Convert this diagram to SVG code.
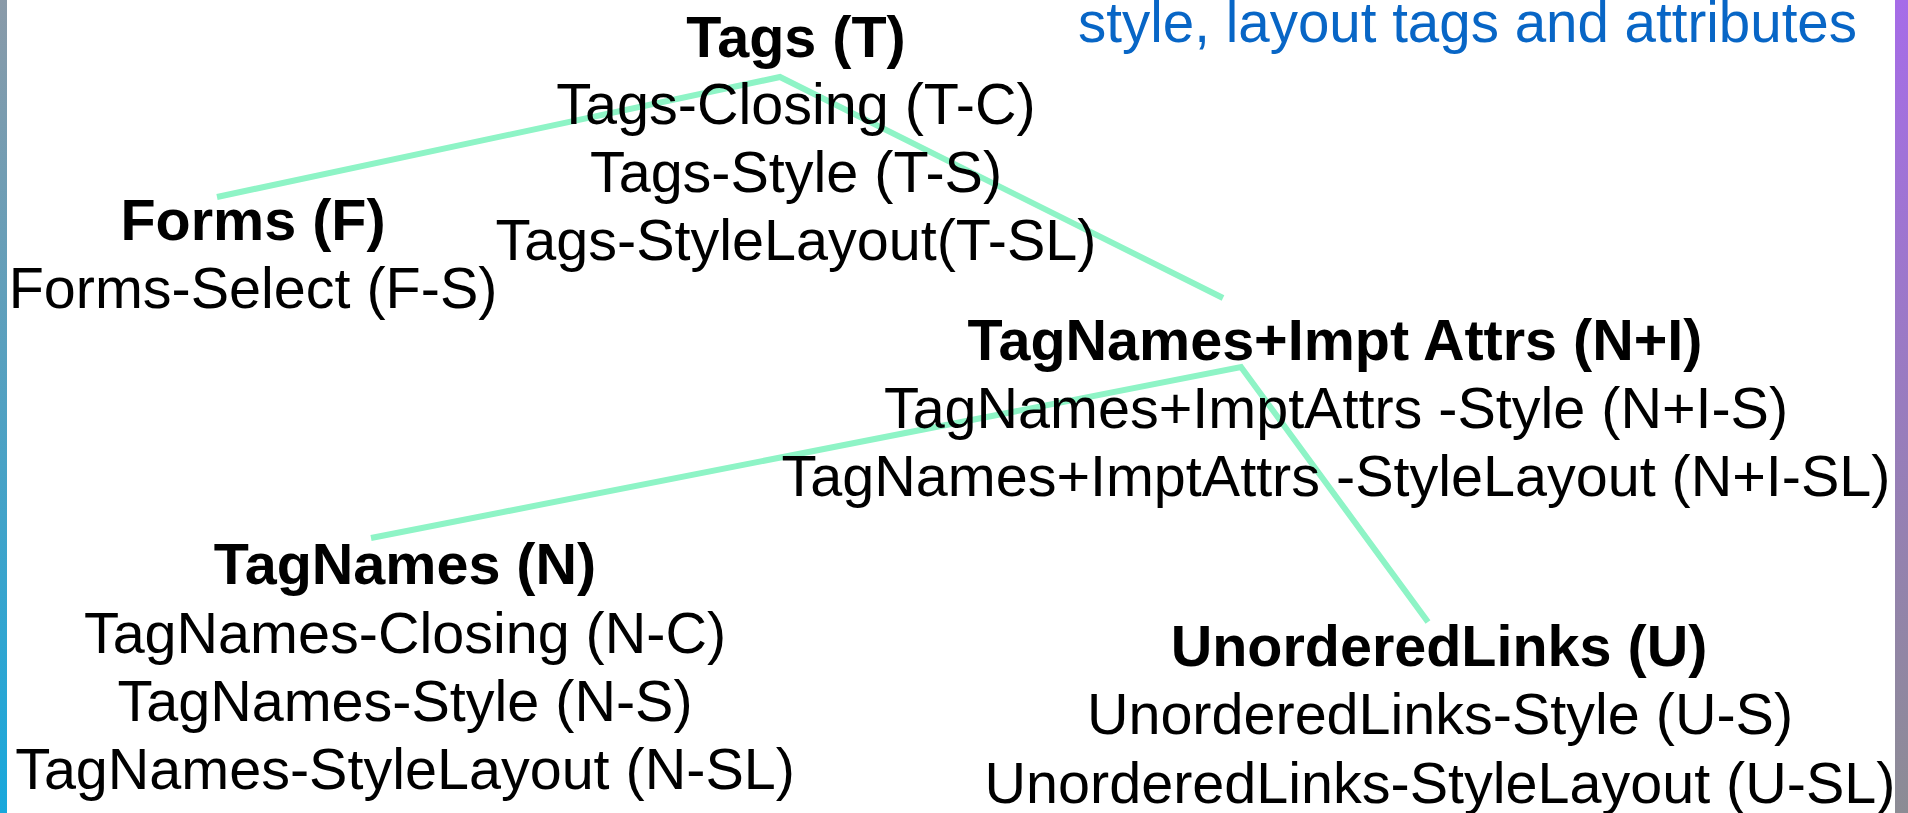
<svg xmlns="http://www.w3.org/2000/svg" width="1908" height="813" viewBox="0 0 1908 813">
  <defs>
    <linearGradient id="edgeLeft" x1="0" y1="0" x2="0" y2="1">
      <stop offset="0" stop-color="#8a9aa8"/>
      <stop offset="1" stop-color="#18a8dc"/>
    </linearGradient>
    <linearGradient id="edgeRight" x1="0" y1="0" x2="0" y2="1">
      <stop offset="0" stop-color="#a66ce8"/>
      <stop offset="1" stop-color="#8c8c94"/>
    </linearGradient>
    <style>
      text { font-family: "Liberation Sans", Arial, sans-serif; font-size: 57.5px; fill: #000; text-anchor: middle; }
      .title { font-weight: bold; }
      .caption { font-size: 56.5px; fill: #0866c6; text-anchor: end; }
      .link { fill: none; stroke: #8ef4c6; stroke-width: 6; stroke-linejoin: miter; }
    </style>
  </defs>

  <!-- page background and side bands -->
  <rect x="0" y="0" width="1908" height="813" fill="#ffffff"/>
  <rect x="0" y="0" width="7" height="813" fill="url(#edgeLeft)"/>
  <rect x="1895" y="0" width="13" height="813" fill="url(#edgeRight)"/>

  <text class="caption" x="1857" y="42">style, layout tags and attributes</text>

  <!-- connectors -->
  <g id="connectors">
    <polyline class="link" points="217,197 780,77 1223,298"/>
    <polyline class="link" points="371,538 1241,367 1428,622"/>
  </g>

  <g id="node-tags">
    <text class="title" x="796" y="57">Tags (T)</text>
    <text x="796" y="124">Tags-Closing (T-C)</text>
    <text x="796" y="192">Tags-Style (T-S)</text>
    <text x="796" y="260">Tags-StyleLayout(T-SL)</text>
  </g>

  <g id="node-forms">
    <text class="title" x="253" y="240">Forms (F)</text>
    <text x="253" y="308">Forms-Select (F-S)</text>
  </g>

  <g id="node-tagnames-impt">
    <text class="title" x="1335" y="360">TagNames+Impt Attrs (N+I)</text>
    <text x="1336" y="428">TagNames+ImptAttrs -Style (N+I-S)</text>
    <text x="1336" y="496">TagNames+ImptAttrs -StyleLayout (N+I-SL)</text>
  </g>

  <g id="node-tagnames">
    <text class="title" x="405" y="584">TagNames (N)</text>
    <text x="405" y="653">TagNames-Closing (N-C)</text>
    <text x="405" y="721">TagNames-Style (N-S)</text>
    <text x="405" y="789">TagNames-StyleLayout (N-SL)</text>
  </g>

  <g id="node-unordered">
    <text class="title" x="1439" y="666">UnorderedLinks (U)</text>
    <text x="1440" y="734">UnorderedLinks-Style (U-S)</text>
    <text x="1440" y="803">UnorderedLinks-StyleLayout (U-SL)</text>
  </g>
</svg>
